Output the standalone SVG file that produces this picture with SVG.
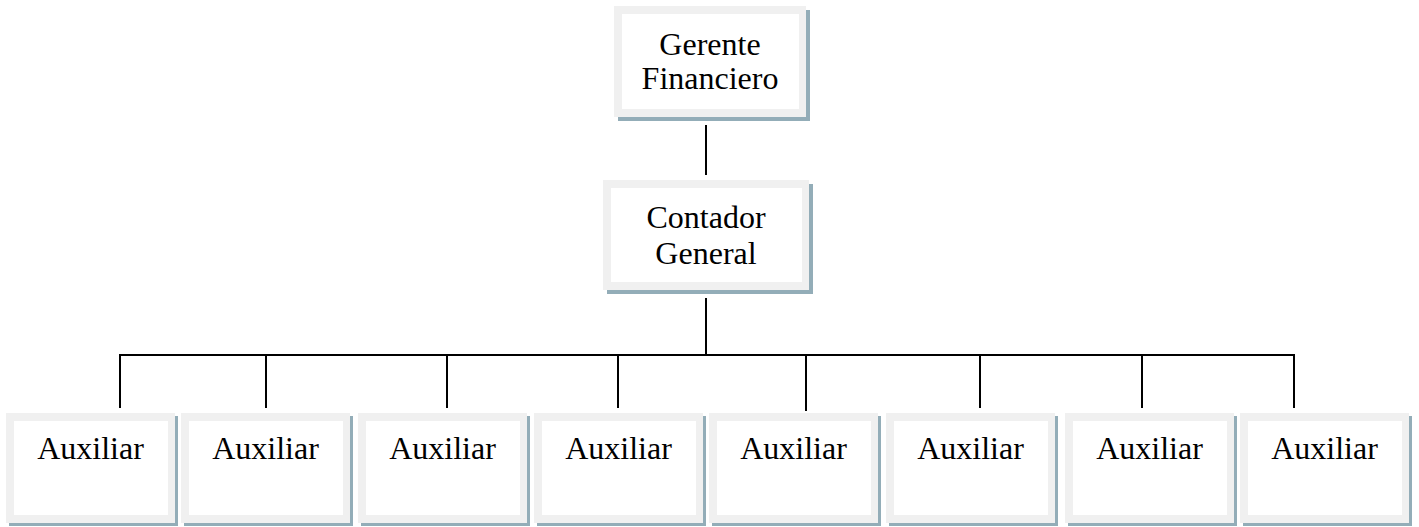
<svg xmlns="http://www.w3.org/2000/svg" width="1419" height="527" viewBox="0 0 1419 527">
  <style>
    .shadow { fill: #93adb8; }
    .frame { fill: #f0f0f0; }
    .face { fill: #ffffff; }
    .label { font-family: "Liberation Serif", "Times New Roman", serif; font-size: 32px; fill: #000; text-anchor: middle; }
    .wire { stroke: #000; stroke-width: 2; fill: none; }
  </style>
  <rect width="1419" height="527" fill="#fff"/>

  <g id="connectors">
    <line class="wire" x1="706" y1="125" x2="706" y2="175"/>
    <line class="wire" x1="706" y1="298" x2="706" y2="355"/>
    <line class="wire" x1="119" y1="355" x2="1295" y2="355"/>
    <line class="wire" x1="120" y1="355" x2="120" y2="408"/>
    <line class="wire" x1="266" y1="355" x2="266" y2="408"/>
    <line class="wire" x1="447" y1="355" x2="447" y2="408"/>
    <line class="wire" x1="618" y1="355" x2="618" y2="408"/>
    <line class="wire" x1="806" y1="355" x2="806" y2="411"/>
    <line class="wire" x1="980" y1="355" x2="980" y2="408"/>
    <line class="wire" x1="1142" y1="355" x2="1142" y2="408"/>
    <line class="wire" x1="1294" y1="355" x2="1294" y2="408"/>
  </g>

  <g id="gerente">
    <rect class="shadow" x="618" y="10" width="192" height="111"/>
    <rect class="frame" x="614" y="6" width="192" height="111"/>
    <rect class="face" x="622" y="14" width="177" height="95"/>
    <text class="label" x="710" y="55">Gerente</text>
    <text class="label" x="710" y="89">Financiero</text>
  </g>

  <g id="contador">
    <rect class="shadow" x="607" y="184" width="206" height="110"/>
    <rect class="frame" x="603" y="180" width="206" height="110"/>
    <rect class="face" x="611" y="188" width="191" height="94"/>
    <text class="label" x="706" y="228">Contador</text>
    <text class="label" x="706" y="264">General</text>
  </g>

  <g id="auxiliar-1">
    <rect class="shadow" x="9" y="416" width="169" height="110"/>
    <rect class="frame" x="6" y="413" width="169" height="110"/>
    <rect class="face" x="14" y="421" width="154" height="94"/>
    <text class="label" x="90.5" y="459">Auxiliar</text>
  </g>
  <g id="auxiliar-2">
    <rect class="shadow" x="184" y="416" width="169" height="110"/>
    <rect class="frame" x="181" y="413" width="169" height="110"/>
    <rect class="face" x="189" y="421" width="154" height="94"/>
    <text class="label" x="265.5" y="459">Auxiliar</text>
  </g>
  <g id="auxiliar-3">
    <rect class="shadow" x="361" y="416" width="169" height="110"/>
    <rect class="frame" x="358" y="413" width="169" height="110"/>
    <rect class="face" x="366" y="421" width="154" height="94"/>
    <text class="label" x="442.5" y="459">Auxiliar</text>
  </g>
  <g id="auxiliar-4">
    <rect class="shadow" x="537" y="416" width="169" height="110"/>
    <rect class="frame" x="534" y="413" width="169" height="110"/>
    <rect class="face" x="542" y="421" width="154" height="94"/>
    <text class="label" x="618.5" y="459">Auxiliar</text>
  </g>
  <g id="auxiliar-5">
    <rect class="shadow" x="712" y="416" width="169" height="110"/>
    <rect class="frame" x="709" y="413" width="169" height="110"/>
    <rect class="face" x="717" y="421" width="154" height="94"/>
    <text class="label" x="793.5" y="459">Auxiliar</text>
  </g>
  <g id="auxiliar-6">
    <rect class="shadow" x="889" y="416" width="169" height="110"/>
    <rect class="frame" x="886" y="413" width="169" height="110"/>
    <rect class="face" x="894" y="421" width="154" height="94"/>
    <text class="label" x="970.5" y="459">Auxiliar</text>
  </g>
  <g id="auxiliar-7">
    <rect class="shadow" x="1068" y="416" width="169" height="110"/>
    <rect class="frame" x="1065" y="413" width="169" height="110"/>
    <rect class="face" x="1073" y="421" width="154" height="94"/>
    <text class="label" x="1149.5" y="459">Auxiliar</text>
  </g>
  <g id="auxiliar-8">
    <rect class="shadow" x="1243" y="416" width="169" height="110"/>
    <rect class="frame" x="1240" y="413" width="169" height="110"/>
    <rect class="face" x="1248" y="421" width="154" height="94"/>
    <text class="label" x="1324.5" y="459">Auxiliar</text>
  </g>
</svg>
